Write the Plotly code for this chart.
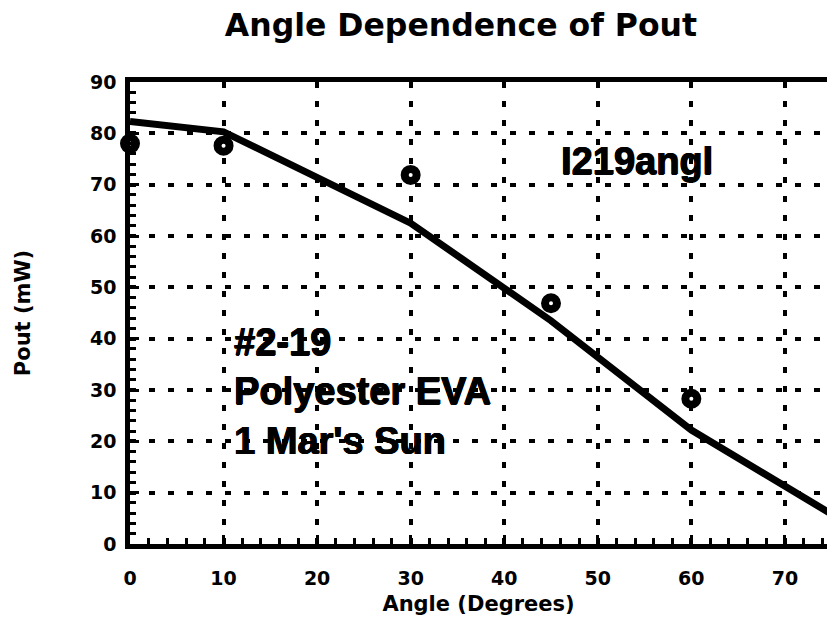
import plotly.graph_objects as go

# Data
meas_angle = [0, 10, 30, 45, 60]
meas_pout = [78.0, 77.6, 71.9, 46.9, 28.3]

model_angle = [0, 10, 30, 45, 60, 75]
model_pout = [82.3, 80.3, 62.5, 43.5, 22.2, 5.8]

x_ticks = [0, 10, 20, 30, 40, 50, 60, 70]
y_ticks = [0, 10, 20, 30, 40, 50, 60, 70, 80, 90]

WIDE = "DejaVu Sans"
TALL = "Liberation Sans"
THICK = "0.8px 0px 0px black, -0.4px 0px 0px black, 0px 0.6px 0px black"

fig = go.Figure()
fig.add_trace(go.Scatter(
    x=model_angle, y=model_pout, mode="lines",
    line=dict(color="black", width=7), showlegend=False, hoverinfo="skip"))
fig.add_trace(go.Scatter(
    x=meas_angle, y=meas_pout, mode="markers",
    marker=dict(symbol="circle", size=12, color="white",
                line=dict(color="black", width=8)),
    cliponaxis=False, showlegend=False))

fig.add_annotation(x=54.2, y=74.6, text="<b>I219angl</b>", showarrow=False,
                   xanchor="center", yanchor="middle",
                   font=dict(family=TALL, size=38, color="black", shadow=THICK))
fig.add_annotation(x=10.9, y=29.8, xanchor="left", yanchor="middle",
                   text="<b>#2-19<br>Polyester EVA<br>1 Mar's Sun</b>",
                   align="left", showarrow=False,
                   font=dict(family=TALL, size=38, color="black", shadow=THICK))

axis_common = dict(
    showline=True, linecolor="black", linewidth=4.5,
    showgrid=True, gridcolor="black", gridwidth=3.5, griddash="6px,13px",
    ticks="inside", ticklen=9, tickwidth=3, tickcolor="black",
    zeroline=False, automargin=False,
    tickfont=dict(family=WIDE, size=19, color="black", weight="bold"),
)

fig.update_xaxes(
    range=[0, 74.5], tickvals=x_ticks, ticktext=[str(v) for v in x_ticks],
    mirror=True, ticklabelstandoff=13,
    minor=dict(dtick=2, ticks="inside", ticklen=6, tickwidth=3,
               tickcolor="black", showgrid=False),
    title=dict(text="<b>Angle (Degrees)</b>", standoff=10,
               font=dict(family=WIDE, size=21, color="black")),
    **axis_common)
fig.update_yaxes(
    range=[0, 90], tickvals=y_ticks, ticktext=[str(v) for v in y_ticks],
    ticklabelstandoff=5,
    minor=dict(dtick=2, ticks="inside", ticklen=6, tickwidth=3,
               tickcolor="black", showgrid=False),
    title=dict(text="<b>Pout (mW)</b>", standoff=55,
               font=dict(family=WIDE, size=21, color="black")),
    **axis_common)

fig.update_layout(
    width=827, height=623,
    margin=dict(l=130, r=0, t=82, b=79),
    paper_bgcolor="white", plot_bgcolor="white",
    title=dict(text="<b>Angle Dependence of Pout</b>", x=0.5574, y=0.96,
               xanchor="center", yanchor="middle",
               font=dict(family=WIDE, size=31.5, color="black")),
)

fig.write_html(
    "out.html",
    config={"displayModeBar": False},
    post_script="document.body.style.margin='0';document.body.style.overflow='hidden';",
)
